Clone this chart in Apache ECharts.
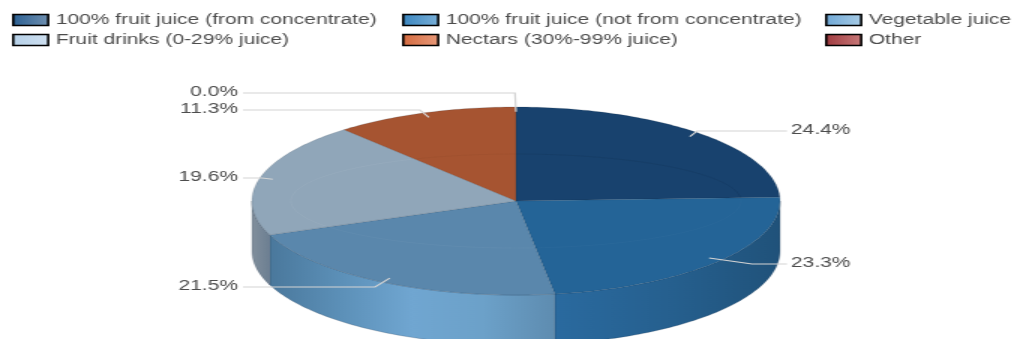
<!DOCTYPE html>
<html>
<head>
<meta charset="utf-8">
<script src="https://cdn.jsdelivr.net/npm/echarts@6/dist/echarts.min.js"></script>
<style>
html,body{margin:0;padding:0;background:#fff;overflow:hidden;width:1016px;height:339px}
#stage{position:absolute;left:0;top:0;height:339px;transform-origin:0 0;filter:blur(0.45px)}
</style>
</head>
<body>
<div id="stage"></div>
<script>
// Data
const categories = ['100% fruit juice (from concentrate)','100% fruit juice (not from concentrate)','Vegetable juice','Fruit drinks (0-29% juice)','Nectars (30%-99% juice)','Other'];
const sliceOrder = ['100% fruit juice (from concentrate)','100% fruit juice (not from concentrate)','Fruit drinks (0-29% juice)','Vegetable juice','Nectars (30%-99% juice)','Other'];
const sliceValues = [24.4, 23.3, 21.5, 19.6, 11.3, 0.0];
const sliceLabels = ['24.4%','23.3%','21.5%','19.6%','11.3%','0.0%'];

// Styling and layout (in reference pixels, S is the horizontal stretch)
const S = 1.5;
const topColors = ['#18426e','#246497','#5a87ac','#90a6b9','#a65431','#8f3a3c'];
const sideStops = [
  ['#18426e','#18426e'],
  ['#2a6a9f','#26608f','#20527a'],
  ['#4a789c','#5c90b8','#70a6d1','#6ca1c9','#5e8cb0'],
  ['#818f9c','#6c7f92'],
  ['#a65431','#a65431'],
  ['#8f3a3c','#8f3a3c']
];
const legendFills = [['#2a5f92','#7090b0'],['#3a86c0','#7ab0d8'],['#6fa8d6','#a8cce6'],['#b5d0e8','#cfe0f0'],['#d46a3f','#e89a7a'],['#a03a3f','#c87a7a']];
const bevelColors = ['rgba(0,0,0,0.06)','rgba(255,255,255,0.025)','rgba(255,255,255,0.035)','rgba(255,255,255,0.05)','rgba(0,0,0,0.03)','rgba(0,0,0,0)'];
const CX = 516, CY = 201, RX = 264, RY = 94, DEPTH = 50;
const BEVEL_RX = 225, BEVEL_RY = 47;
const leaderFrac = 0.95;
const labelY = [131,264,287,178,110,93];
const elbowX = [697,752,375,262,420,515];
const rightLineEnd = 787, leftLineEnd = 243, rightTextX = 791, leftTextX = 238;
const FONT = '"Liberation Sans", Arial, sans-serif';

const stage = document.getElementById('stage');
stage.style.width = (1016/S)+'px';
stage.style.transform = 'scaleX('+S+')';
const chart = echarts.init(stage, null, {renderer:'canvas', devicePixelRatio:1});
const total = sliceValues.reduce((a,b)=>a+b,0);
const X = x => x/S;

function ell(a, dy){ return [X(CX + RX*Math.sin(a)), CY - RY*Math.cos(a) + (dy||0)]; }
function arcPts(a0,a1,dy){
  const n = Math.max(2, Math.ceil(Math.abs(a1-a0)/0.02)), out=[];
  for(let i=0;i<=n;i++) out.push(ell(a0+(a1-a0)*i/n,dy));
  return out;
}
function bevelPts(a0,a1){
  const out=[];
  for(let t=0;t<=2*Math.PI;t+=0.02){
    const sx=BEVEL_RX*Math.sin(t), cy=BEVEL_RY*Math.cos(t);
    let ang=Math.atan2(sx/RX,cy/RY); if(ang<0) ang+=2*Math.PI;
    if(ang>=a0 && ang<=a1) out.push([X(CX+sx),CY-cy]);
  }
  return out;
}
function grad(stops,x0,x1){
  return new echarts.graphic.LinearGradient(x0,0,x1,0,stops.map((c,i)=>({offset:i/(stops.length-1),color:c})),true);
}
function makeRender(idx){
  const before = sliceValues.slice(0,idx).reduce((a,b)=>a+b,0);
  return function(params, api){
    const v = api.value(0);
    const a0 = before/total*2*Math.PI, a1 = (before+v)/total*2*Math.PI;
    const kids = [];
    // side wall: only the front half of the cylinder faces the viewer
    const s0 = Math.max(a0,Math.PI/2), s1 = Math.min(a1,Math.PI*1.5);
    if(v>0 && s1>s0){
      const upper = arcPts(s0,s1,0), lower = arcPts(s1,s0,DEPTH);
      const xs = upper.map(p=>p[0]);
      kids.push({type:'polygon',z2:1,shape:{points:upper.concat(lower)},
        style:{fill:grad(sideStops[idx],Math.min(...xs),Math.max(...xs)),stroke:'rgba(30,50,70,0.35)',lineWidth:0.6}});
    }
    // top face
    if(v>0){
      kids.push({type:'polygon',z2:2,shape:{points:[[X(CX),CY]].concat(arcPts(a0,a1,0))},
        style:{fill:topColors[idx],stroke:'rgba(20,40,60,0.3)',lineWidth:0.5}});
      const b = bevelPts(a0,a1);
      if(b.length>1) kids.push({type:'polyline',z2:3,shape:{points:b},
        style:{fill:'none',stroke:bevelColors[idx],lineWidth:1}});
    }
    // leader line and label
    const mid = (a0+a1)/2, right = Math.sin(mid)>0.001;
    const p = [X(CX+RX*leaderFrac*Math.sin(mid)), CY-RY*leaderFrac*Math.cos(mid)];
    const ly = labelY[idx];
    const endX = X(right?rightLineEnd:leftLineEnd);
    kids.push({type:'polyline',z2:5,shape:{points:[p,[X(elbowX[idx]),ly],[endX,ly]]},
      style:{fill:'none',stroke:'#d4d4d4',lineWidth:1.2}});
    kids.push({type:'text',z2:6,x:X(right?rightTextX:leftTextX),y:ly-1,
      style:{text:sliceLabels[idx],fill:'#4d4d4d',font:'14px '+FONT,
        align:right?'left':'right',verticalAlign:'middle'}});
    return {type:'group',children:kids};
  };
}

function legendItem(name){
  const i = categories.indexOf(name);
  return {name, icon:'rect', itemStyle:{
    color:new echarts.graphic.LinearGradient(0,0,1,0,[{offset:0,color:legendFills[i][0]},{offset:1,color:legendFills[i][1]}]),
    borderColor:'#000',borderWidth:1.6}};
}
const legendCols = [[0,3,12],[1,4,402],[2,5,825]];
chart.setOption({
  backgroundColor:'#fff',
  animation:false,
  tooltip:{show:false},
  legend:legendCols.map(c=>({
    orient:'vertical',left:X(c[2]),top:13,itemWidth:X(35),itemHeight:11,itemGap:6,padding:0,
    textStyle:{color:'#4d4d4d',fontSize:14,fontFamily:FONT},
    selectedMode:false,
    data:[legendItem(categories[c[0]]),legendItem(categories[c[1]])]
  })),
  series:sliceOrder.map((name,i)=>({
    type:'custom',name,coordinateSystem:'none',silent:true,clip:false,
    itemStyle:{color:topColors[i]},
    renderItem:makeRender(i),
    data:[[sliceValues[i]]]
  }))
});
</script>
</body>
</html>
